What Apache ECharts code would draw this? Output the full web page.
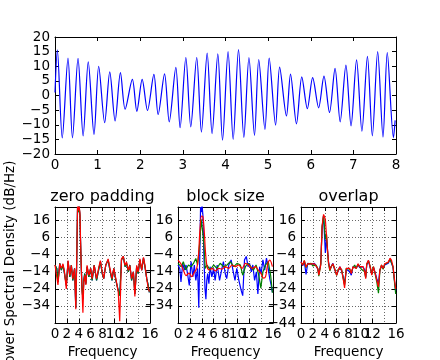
<!DOCTYPE html>
<html><head><meta charset="utf-8">
<script src="https://cdn.jsdelivr.net/npm/echarts@6/dist/echarts.min.js"></script>
<style>html,body{margin:0;padding:0;background:#fff}#c{width:440px;height:360px}</style>
</head><body><div id="c"></div>
<script>
// ---- top panel: time series (peaks / troughs) ----
const timeT = [0, 0.055, 0.17, 0.305, 0.41, 0.54, 0.66, 0.78, 0.915, 1.025, 1.165, 1.285, 1.41, 1.535, 1.645, 1.815, 1.92, 2.045, 2.17, 2.32, 2.42, 2.57, 2.68, 2.835, 2.935, 3.07, 3.185, 3.325, 3.435, 3.57, 3.685, 3.82, 3.93, 4.06, 4.18, 4.305, 4.43, 4.55, 4.68, 4.78, 4.925, 5.025, 5.175, 5.27, 5.43, 5.525, 5.665, 5.79, 5.92, 6.045, 6.185, 6.31, 6.44, 6.57, 6.69, 6.825, 6.945, 7.075, 7.2, 7.33, 7.445, 7.57, 7.695, 7.795, 7.94, 7.98];
const signalV = [1, 15.6, -14.5, 12.8, -14.5, 12.7, -13.8, 11.5, -13.3, 10.0, -9.3, 8.1, -8.7, 7.8, -4.7, 5.5, -5.4, 5.5, -5.1, 7.2, -6.5, 7.4, -9, 9.6, -11, 13.0, -10.7, 13.0, -12.5, 14.5, -13, 14.2, -15.3, 15.0, -15, 15.7, -14.3, 13.0, -13.6, 12.3, -11.6, 12.8, -10.1, 9.7, -7, 7.3, -9.7, 6.4, -4.5, 6.1, -4.2, 6.6, -5.8, 9.3, -9, 10.4, -10.4, 12.2, -12.2, 13.4, -13.8, 15.0, -14.2, 14.7, -14.4, -8.5];

// ---- zero padding ----
const zpFreq = [0, 0.1, 0.3, 0.5, 0.8, 1.07, 1.35, 1.6, 1.9, 2.2, 2.5, 2.75, 3.0, 3.3, 3.5, 3.65, 3.8, 3.92, 4.05, 4.2, 4.3, 4.4, 4.55, 4.7, 4.85, 5.0, 5.2, 5.4, 5.7, 6.0, 6.25, 6.6, 7.0, 7.4, 7.65, 7.95, 8.2, 8.55, 8.95, 9.25, 9.6, 9.9, 10.25, 10.65, 10.9, 11.2, 11.5, 11.8, 12.05, 12.35, 12.6, 12.9, 13.2, 13.45, 13.75, 14.0, 14.3, 14.6, 14.9, 15.15, 15.45, 15.7, 15.9];
const zpRed = [-10, -9.3, -11, -21.7, -9.3, -12, -9.3, -14, -24, -7.4, -16, -10.2, -18, -12, -36, -10, 25, 22, 25, 20.4, 5, -8, -25, -38, -20, -16, -21.7, -10.2, -16, -12, -18, -10.2, -18, -11, -7.4, -14, -18, -10.2, -6.4, -12, -18, -12, -18, -25.6, -43, -6.4, -4.9, -10.2, -8.3, -13.1, -10.2, -18, -14, -28.4, -10.2, -14, -6.4, -13.1, -5.5, -10.2, -18, -23.7, -25.6];
const fullBlue = [-10, -9, -12, -20, -9, -13, -10, -15, -22, -8, -17, -10, -19, -12, -35, -8, 24, 21, 25, 19, 4, -9, -24, -30, -19, -15, -21, -11, -17, -12, -19, -10, -19, -12, -8, -15, -18, -10, -7, -13, -19, -12, -19, -25, -28, -7, -5, -11, -9, -14, -10, -19, -14, -27, -11, -15, -7, -13, -6, -11, -18, -22, -26];

// ---- block size ----
const bsGreenFreq = [0, 0.5, 0.9, 1.3, 1.75, 2.2, 2.6, 3.0, 3.3, 3.67, 3.9, 4.12, 4.35, 4.58, 4.9, 5.4, 6.0, 6.55, 7.1, 7.7, 8.25, 8.8, 9.4, 9.95, 10.5, 10.9, 11.35, 11.8, 12.26, 12.7, 13.15, 13.6, 13.95, 14.3, 14.75, 15.2, 15.6, 15.9];
const bsGreen = [-9.1, -11, -8.1, -12.9, -10, -11, -9.1, -6.2, -10, 3.4, 16.8, 16.8, 3.4, -12, -10, -13, -10, -12, -9, -11, -10, -8, -11, -9, -10, -16, -11, -9, -11, -13, -10, -16, -23.5, -14, -10, -8, -16, -26.3];
const bsRedFreq = [0, 0.45, 0.9, 1.35, 1.86, 2.3, 2.75, 3.15, 3.45, 3.67, 3.95, 4.18, 4.4, 4.63, 4.9, 5.25, 5.7, 6.27, 6.84, 7.4, 7.97, 8.53, 9.1, 9.66, 10.2, 10.8, 11.36, 11.9, 12.5, 13.05, 13.5, 13.95, 14.4, 14.75, 15.14, 15.48, 15.9];
const bsRed = [-7.2, -9.1, -12.9, -16.2, -14.8, -16.8, -14.3, -12, -4.3, 9.1, 18.7, 18.3, 11, -2.4, -11, -12.9, -12, -13.5, -12, -12.4, -11, -12, -10, -11, -10, -12, -9.1, -10, -12, -11, -12.9, -14.8, -17.7, -16.8, -9.1, -7.2, -11];

// ---- overlap ----
const ovFreq = [0, 0.28, 0.56, 0.85, 1.13, 1.41, 1.7, 1.98, 2.26, 2.54, 2.82, 3.0, 3.16, 3.33, 3.56, 3.8, 3.95, 4.1, 4.3, 4.46, 4.63, 4.86, 5.08, 5.37, 5.65, 6.0, 6.27, 6.55, 6.84, 7.1, 7.34, 7.63, 7.9, 8.2, 8.47, 8.76, 9.04, 9.3, 9.6, 9.9, 10.17, 10.45, 10.73, 10.9, 11.07, 11.36, 11.64, 11.92, 12.2, 12.5, 12.77, 13.05, 13.28, 13.56, 13.84, 14.1, 14.4, 14.7, 15.0, 15.25, 15.5, 15.8, 15.95];
const ovBlue = [-8, -10.5, -8, -15.5, -9, -10, -9.5, -10, -9, -10.5, -12.5, -15, -16, -9, 12, 19, 20, -3, 6, -1, -8, -12.5, -11.5, -9, -12.5, -15.5, -13.5, -11, -13.5, -17, -21, -12.5, -11.5, -14, -16, -11, -10.5, -11.5, -10, -11.5, -12, -11, -13, -17, -10, -7.5, -11.5, -15, -11.5, -14.5, -18, -21, -13, -10.5, -12, -10, -10.5, -9, -6.5, -7, -11.5, -21, -25];
const ovGreen = [-8.5, -10, -7.5, -11.5, -9.5, -10, -9, -10.5, -9.5, -10, -12, -16.5, -16.5, -9.5, 12.5, 19, 20, 5, 8, -2, -9, -13.5, -11, -9.5, -12, -16, -12.5, -11.5, -12.5, -17.5, -22, -12, -11, -12.5, -14.5, -11.5, -10, -12, -9.5, -11, -12.5, -11.5, -14, -17.5, -9.5, -7.5, -10.5, -15.5, -11, -15.5, -20, -26.5, -13.5, -10, -12.5, -9.5, -10, -8.5, -6.5, -7.5, -11, -22, -27];
const ovRed = [-8.3, -10.2, -7.3, -11.2, -9.3, -10.2, -9.3, -10.2, -9.3, -10.2, -12, -16, -17, -10, 13, 19.7, 20.6, 16.8, 7, -0.6, -8.3, -13, -11, -9.3, -12, -16, -13, -11, -13, -18, -23.4, -12, -11, -12, -15, -11, -10, -12, -9.3, -11, -12, -11, -14, -18, -9.3, -7.3, -11, -16, -11, -15, -19, -22.8, -13, -10, -12, -9.3, -10, -8.3, -6, -7.3, -11, -20, -24];

const titles = ['zero padding', 'block size', 'overlap'];
const yLabel = 'Power Spectral Density (dB/Hz)';
const xLabel = 'Frequency';

const FONT = 'DejaVu Sans';
const FS = 13.5;
const minus = v => String(v).replace('-', '\u2212');
const pair = (xs, ys) => xs.map((x, i) => [x, ys[i]]);

const grids = [
  {left: 55, top: 37, width: 341, height: 117},
  {left: 55, top: 207, width: 95, height: 116},
  {left: 178, top: 207, width: 95, height: 116},
  {left: 301, top: 207, width: 95, height: 116}
];

function axis(gi, min, max, interval, pos, labels, grid, extra) {
  return Object.assign({
    gridIndex: gi, type: 'value', min, max, interval, position: pos,
    axisLine: {show: true, onZero: false, lineStyle: {color: '#000', width: 1}},
    axisTick: {show: true, inside: true, length: 4, lineStyle: {color: '#000', width: 1}},
    axisLabel: {show: labels, color: '#000', fontSize: FS, fontFamily: FONT,
      margin: (pos === 'left' || pos === 'right') ? 5 : 4, formatter: minus,
      showMinLabel: true, showMaxLabel: true, hideOverlap: false},
    splitLine: {show: grid, lineStyle: {color: '#000', width: 0.6, type: [1, 2]}},
    minorTick: {show: false}
  }, extra || {});
}

const xAxes = [], yAxes = [];
// top panel
xAxes.push(axis(0, 0, 8, 1, 'bottom', true, false));
xAxes.push(axis(0, 0, 8, 1, 'top', false, false));
yAxes.push(axis(0, -20, 20, 5, 'left', true, false));
yAxes.push(axis(0, -20, 20, 5, 'right', false, false));
for (let g = 1; g <= 3; g++) {
  xAxes.push(axis(g, 0, 16, 2, 'bottom', true, true, {
    name: xLabel, nameLocation: 'middle', nameGap: 22,
    nameTextStyle: {color: '#000', fontSize: FS, fontFamily: FONT}
  }));
  xAxes.push(axis(g, 0, 16, 2, 'top', false, false));
  const yl = axis(g, -44, 24, 10, 'left', true, true);
  yl.axisLabel.showMaxLabel = false;
  yl.axisLabel.showMinLabel = (g === 3);
  yAxes.push(yl);
  yAxes.push(axis(g, -44, 24, 10, 'right', false, false));
}

function line(g, data, color, smooth) {
  return {type: 'line', xAxisIndex: 2 * g, yAxisIndex: 2 * g, data,
    showSymbol: false, smooth: smooth || false, clip: true,
    lineStyle: {color, width: 1.2}, itemStyle: {color}, animation: false};
}

const series = [
  line(0, pair(timeT, signalV), '#0000ff', 0.3),
  line(1, pair(zpFreq, fullBlue), '#0000ff'),
  line(1, pair(zpFreq, fullBlue), '#008000'),
  line(1, pair(zpFreq, zpRed), '#ff0000'),
  line(2, pair(zpFreq, fullBlue), '#0000ff'),
  line(2, pair(bsGreenFreq, bsGreen), '#008000'),
  line(2, pair(bsRedFreq, bsRed), '#ff0000', 0.3),
  line(3, pair(ovFreq, ovBlue), '#0000ff'),
  line(3, pair(ovFreq, ovGreen), '#008000'),
  line(3, pair(ovFreq, ovRed), '#ff0000')
];

const graphic = titles.map((t, i) => ({
  type: 'text', x: grids[i + 1].left + grids[i + 1].width / 2, y: 197,
  style: {text: t, font: '16px "DejaVu Sans"', fill: '#000',
    textAlign: 'center', textVerticalAlign: 'middle', align: 'center', verticalAlign: 'middle'}
}));
graphic.push({
  type: 'text', x: 10, y: 266, rotation: Math.PI / 2,
  style: {text: yLabel, font: FS + 'px "DejaVu Sans"', fill: '#000',
    textAlign: 'center', textVerticalAlign: 'middle', align: 'center', verticalAlign: 'middle'}
});

const chart = echarts.init(document.getElementById('c'), null, {renderer: 'canvas'});
chart.setOption({
  animation: false,
  backgroundColor: '#fff',
  grid: grids.map(g => Object.assign({containLabel: false}, g)),
  xAxis: xAxes, yAxis: yAxes, series, graphic
});
</script></body></html>
